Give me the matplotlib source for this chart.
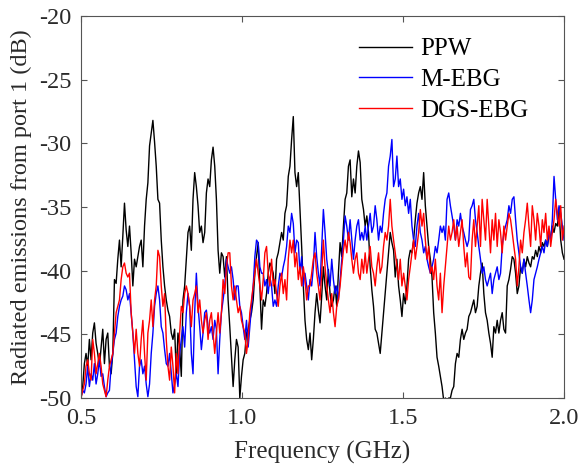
import matplotlib
matplotlib.use("Agg")
import matplotlib.pyplot as plt
import numpy as np

# Radiated emissions from port 1 (dB).
# Samples are evenly spaced from 0.5 to 2.0 GHz.

ppw_db = [
    # 0.50 - 0.71
    -50.0, -49.1, -47.3, -46.5, -47.5, -45.4, -47.0, -44.9, -44.1, -45.7,
    -46.5, -47.5, -46.0, -44.6, -47.3, -45.4, -44.9, -47.5, -48.1, -46.5,
    -40.7, -41.0, -39.1, -37.6, -39.7, -37.3, -34.7, -36.8, -38.1, -36.5,
    -38.6, -41.2, -39.1, -39.7, -38.9, -38.1, -37.6, -39.7, -36.5, -34.4,
    -33.1,
    # 0.71 - 0.96
    -30.2, -29.2, -28.2, -29.9, -31.8, -34.4, -34.7, -37.6, -39.7, -41.2,
    -42.3, -43.1, -43.6, -44.9, -45.4, -44.6, -48.1, -44.9, -46.0, -48.3,
    -42.3, -41.2, -39.1, -37.0, -36.5, -38.4, -34.4, -32.3, -33.4, -34.9,
    -37.0, -36.5, -37.8, -37.0, -33.9, -32.8, -33.4, -31.3, -30.3, -31.8,
    -34.4, -38.4, -40.2, -38.6, -38.9, -40.5, -38.9, -42.3,
    # 0.96 - 1.21
    -44.4, -46.8, -49.1, -47.0, -45.4, -46.0, -50.0, -48.3, -47.0, -46.5,
    -44.9, -44.6, -43.9, -43.3, -42.3, -40.2, -38.9, -37.8, -41.2, -44.6,
    -42.3, -42.8, -41.8, -40.2, -39.4, -39.7, -40.2, -41.8, -39.1, -38.6,
    -37.8, -37.0, -37.6, -35.5, -34.9, -32.6, -31.8, -29.7, -27.9, -32.3,
    -33.4, -32.3, -35.2, -38.1, -41.2, -43.9, -45.4, -46.2,
    # 1.21 - 1.46
    -44.9, -47.0, -45.4, -43.3, -41.8, -43.1, -44.1, -42.0, -39.7, -41.2,
    -42.3, -39.9, -41.8, -42.8, -42.3, -41.2, -42.8, -40.2, -37.8, -38.9,
    -36.5, -34.4, -33.9, -31.8, -31.3, -34.2, -32.8, -33.9, -31.8, -30.6,
    -31.5, -34.4, -35.2, -36.5, -35.7, -37.0, -39.7, -41.5, -42.8, -44.6,
    -44.9, -45.7, -46.5, -44.9, -43.3, -41.8, -40.2, -38.6,
    # 1.46 - 1.71
    -37.0, -37.8, -38.4, -40.5, -39.1, -41.2, -42.3, -43.6, -41.8, -42.6,
    -41.2, -39.1, -38.4, -38.6, -37.6, -36.0, -34.7, -33.9, -33.4, -34.4,
    -32.3, -34.9, -36.5, -38.1, -39.1, -40.5, -43.3, -44.9, -46.8, -47.5,
    -48.3, -49.1, -50.2, -50.0, -50.2, -50.0, -50.0, -49.4, -49.1, -47.3,
    -46.5, -46.8, -45.4, -44.6, -45.4, -44.9, -44.6, -43.6,
    # 1.71 - 2.00
    -43.3, -42.8, -42.3, -43.3, -42.8, -41.2, -40.2, -39.4, -41.8, -43.3,
    -43.9, -44.9, -45.7, -46.8, -44.4, -44.9, -43.9, -44.9, -43.9, -43.3,
    -44.6, -44.9, -41.2, -40.7, -39.9, -38.9, -39.1, -40.2, -41.8, -41.2,
    -39.7, -40.2, -39.1, -39.7, -38.9, -39.4, -39.7, -38.9, -39.1, -38.4,
    -38.9, -38.1, -38.6, -37.8, -38.1, -37.6, -38.1, -37.3, -37.3, -36.5,
    -37.0, -36.3, -36.5, -35.2, -37.6, -38.6, -39.1,
]

mebg_db = [
    -49.9, -49.4, -49.6, -48.9, -47.5, -49.1, -48.1, -48.6, -47.3, -48.9,
    -48.1, -47.0, -48.3, -48.1, -49.1, -49.9, -49.6, -49.4, -47.5, -46.5,
    -45.4, -44.9, -43.6, -42.8, -42.3, -42.0, -41.2, -41.5, -42.3, -41.8,
    -43.3, -44.9, -47.0, -49.1, -49.9, -47.5, -47.0, -48.1, -47.5, -48.9,
    -49.9,
    -48.9, -46.5, -44.9, -42.8, -41.8, -41.2, -42.3, -44.4, -44.9, -46.2,
    -47.3, -47.5, -46.5, -48.1, -49.6, -48.9, -48.1, -49.1, -46.5, -45.4,
    -44.4, -46.0, -43.3, -41.8, -42.8, -46.5, -48.1, -43.3, -40.2, -42.8,
    -44.4, -46.2, -44.9, -43.3, -43.1, -44.4, -44.9, -44.4, -45.4, -43.9,
    -44.6, -48.1, -45.4, -43.3, -42.3, -41.2, -39.1, -39.7,
    -40.2, -39.7, -40.7, -42.3, -41.2, -41.2, -42.8, -43.3, -44.4, -45.4,
    -43.9, -46.0, -44.4, -42.8, -41.2, -38.9, -37.6, -37.8, -39.7, -40.2,
    -40.2, -41.2, -40.7, -41.8, -40.5, -41.2, -42.8, -42.3, -42.8, -41.2,
    -40.2, -40.5, -39.7, -39.1, -38.1, -36.5, -37.0, -35.5, -36.3, -38.6,
    -37.6, -37.8, -40.2, -38.9, -41.2, -40.2, -41.2, -42.3,
    -40.7, -41.2, -39.7, -37.0, -38.9, -40.2, -41.2, -38.1, -35.2, -37.0,
    -39.1, -40.2, -41.2, -39.1, -40.7, -41.8, -41.2, -42.3, -40.7, -39.1,
    -37.6, -35.7, -36.5, -37.6, -36.0, -37.6, -39.1, -37.6, -36.5, -36.0,
    -37.6, -37.0, -37.6, -36.5, -37.6, -36.5, -35.5, -37.0, -36.5, -34.9,
    -36.0, -37.6, -36.5, -37.0, -35.5, -34.4, -33.9, -31.8,
    -31.0, -29.7, -33.4, -32.8, -31.0, -33.4, -32.8, -34.4, -33.6, -34.9,
    -34.2, -35.5, -34.4, -36.5, -37.6, -38.1, -36.5, -35.5, -37.0, -37.6,
    -38.6, -38.1, -39.1, -39.7, -40.2, -39.7, -39.1, -38.1, -38.6, -37.6,
    -36.5, -37.0, -36.5, -37.6, -34.4, -33.9, -34.9, -35.7, -36.5, -37.6,
    -36.0, -36.5, -35.5, -36.5, -37.0, -37.6, -38.1, -37.6,
    -35.2, -34.9, -34.4, -36.0, -37.0, -38.1, -39.1, -40.2, -39.7, -40.7,
    -41.2, -40.7, -40.2, -41.8, -40.7, -40.2, -39.7, -40.7, -40.2, -38.1,
    -37.0, -36.5, -36.0, -34.9, -35.5, -34.4, -34.2, -36.0, -37.6, -38.6,
    -39.7, -40.2, -39.1, -40.2, -41.2, -42.3, -43.3, -42.3, -40.7, -40.2,
    -39.7, -39.1, -38.6, -38.1, -38.6, -37.6, -38.1, -37.0, -37.6, -36.0,
    -32.6, -34.4, -36.0, -34.9, -35.5, -36.5, -37.6,
]

dgs_db = [
    -50.0, -49.4, -48.9, -47.5, -47.0, -48.1, -48.6, -45.4, -46.5, -48.1,
    -47.3, -46.5, -47.5, -48.9, -49.4, -49.9, -48.6, -47.5, -47.0, -46.5,
    -44.9, -43.3, -42.8, -42.3, -40.7, -39.7, -39.4, -40.2, -40.5, -40.2,
    -43.3, -44.9, -46.5, -44.6, -46.5, -47.5, -45.4, -43.9, -46.5, -48.6,
    -44.9,
    -43.9, -42.3, -44.4, -42.3, -41.2, -38.4, -38.9, -41.2, -42.8, -41.8,
    -45.4, -47.5, -48.6, -46.0, -47.5, -49.6, -46.5, -48.1, -44.9, -42.8,
    -43.3, -41.8, -41.2, -41.8, -42.8, -44.4, -42.3, -41.8, -41.2, -43.3,
    -42.3, -43.9, -44.9, -43.9, -43.3, -45.4, -43.9, -43.3, -44.9, -46.5,
    -44.9, -43.3, -44.9, -43.3, -40.7, -41.8, -39.7, -38.6,
    -38.6, -41.2, -42.3, -41.2, -42.3, -43.3, -42.8, -43.9, -44.4, -44.9,
    -46.5, -45.4, -43.3, -42.3, -41.2, -40.2, -39.1, -40.2, -41.2, -42.3,
    -40.7, -38.6, -38.1, -40.2, -41.2, -39.1, -41.2, -40.7, -41.8, -42.8,
    -41.2, -40.2, -41.8, -40.7, -42.3, -39.1, -37.6, -38.6, -37.6, -39.7,
    -38.6, -40.7, -39.7, -41.2, -39.7, -40.7, -42.3, -41.2,
    -41.2, -40.2, -39.1, -38.6, -40.2, -41.2, -42.3, -40.2, -37.6, -39.7,
    -41.2, -42.3, -43.3, -41.8, -43.3, -44.4, -42.8, -42.3, -41.2, -39.7,
    -38.4, -37.6, -38.6, -37.0, -37.8, -39.1, -40.2, -39.1, -38.6, -40.2,
    -40.7, -39.1, -40.2, -38.6, -40.2, -39.1, -38.1, -39.7, -40.2, -41.2,
    -39.7, -38.6, -40.2, -39.7, -38.1, -37.0, -37.6, -36.5,
    -34.4, -36.5, -37.6, -38.6, -39.7, -40.7, -39.1, -41.2, -40.2, -41.2,
    -42.3, -40.7, -39.7, -38.6, -37.6, -39.1, -38.1, -37.0, -35.2, -36.5,
    -35.5, -37.6, -39.1, -38.1, -40.2, -39.7, -40.7, -39.1, -41.2, -42.3,
    -40.2, -43.3, -41.2, -39.7, -38.1, -36.5, -37.6, -37.0, -36.0, -37.6,
    -36.5, -38.1, -37.0, -36.0, -38.1, -39.7, -38.6, -40.5,
    -40.7, -37.6, -36.0, -38.1, -36.5, -34.9, -38.1, -34.4, -36.0, -37.6,
    -34.4, -36.5, -38.6, -36.0, -37.6, -35.5, -38.1, -36.0, -37.0, -38.6,
    -36.5, -37.6, -36.5, -35.5, -36.0, -37.0, -38.1, -39.1, -41.2, -39.7,
    -37.6, -38.6, -37.0, -36.0, -34.7, -36.5, -38.1, -34.9, -36.0, -37.6,
    -35.5, -36.5, -38.1, -36.0, -37.0, -35.5, -37.6, -36.5, -38.1, -37.0,
    -36.0, -34.4, -35.5, -36.5, -34.9, -37.6, -36.5,
]

series = [
    ("PPW", ppw_db, "#000000"),
    ("M-EBG", mebg_db, "#0000ff"),
    ("DGS-EBG", dgs_db, "#ff0000"),
]

plt.rcParams["font.family"] = ["Liberation Serif", "DejaVu Serif"]
plt.rcParams["axes.unicode_minus"] = False

fig = plt.figure(figsize=(5.8, 4.7), dpi=100)
ax = fig.add_axes([0.1397, 0.1532, 0.8328, 0.8128])

for label, vals, color in series:
    freq = np.linspace(0.5, 2.0, len(vals))
    ax.plot(freq, vals, color=color, linewidth=1.0, label=label)

ax.set_xlim(0.5, 2.0)
ax.set_ylim(-50, -20)
ax.set_xticks([0.5, 1.0, 1.5, 2.0])
ax.set_xticklabels(["0.5", "1.0", "1.5", "2.0"])
ax.set_yticks([-50, -45, -40, -35, -30, -25, -20])
ax.tick_params(direction="in", top=True, right=True, length=4,
               labelsize=17.5, colors="#555555", labelcolor="#2a2a2a")
ax.tick_params(axis="x", pad=7)
ax.tick_params(axis="y", pad=7)
for sp in ax.spines.values():
    sp.set_color("#555555")
    sp.set_linewidth(0.8)

ax.set_xlabel("Frequency (GHz)", fontsize=18, color="#2a2a2a", labelpad=9)
ax.set_ylabel("Radiated emissions from port 1 (dB)", fontsize=17.5,
              color="#2a2a2a", labelpad=5)

ax.legend(loc="upper left", bbox_to_anchor=(0.5756, 0.943), frameon=False,
          fontsize=18, handlelength=2.1, handletextpad=0.35, labelspacing=0.33,
          borderpad=0, borderaxespad=0)

plt.savefig("out.png", dpi=100)
